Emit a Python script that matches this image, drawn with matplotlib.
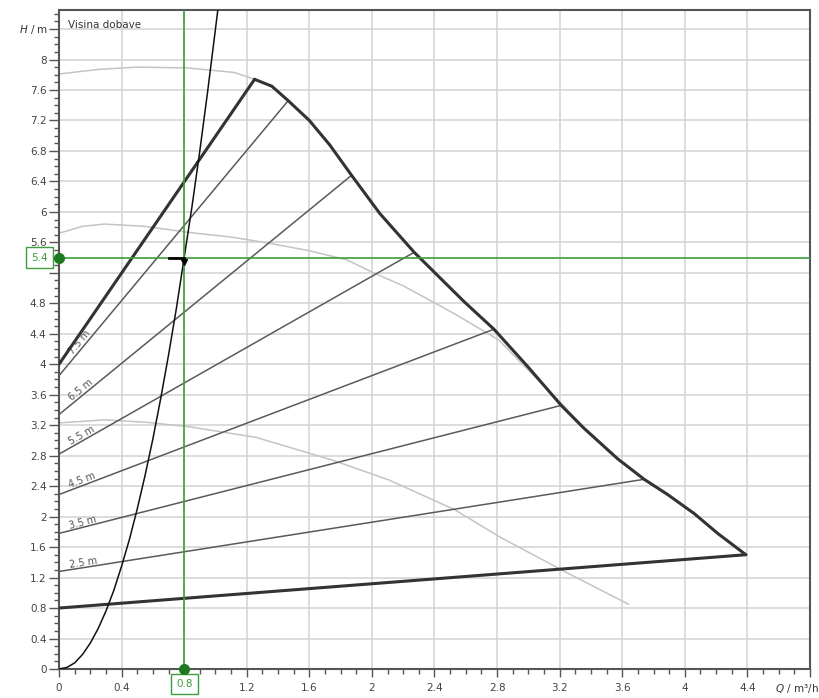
import numpy as np
import matplotlib.pyplot as plt
from matplotlib.ticker import MultipleLocator

# granica radnog podrucja (debela linija)
gran_lijevo_q = [0.0, 1.25]
gran_lijevo_h = [4.0, 7.74]
gran_desno_q = [1.25, 1.36, 1.465, 1.6, 1.73, 1.87, 2.05, 2.27, 2.59, 2.78, 3.0, 3.21,
                3.35, 3.57, 3.74, 3.89, 4.06, 4.21, 4.39]
gran_desno_h = [7.74, 7.65, 7.46, 7.20, 6.88, 6.48, 5.98, 5.47, 4.82, 4.46, 3.96, 3.46,
                3.17, 2.76, 2.49, 2.29, 2.04, 1.78, 1.50]
gran_dolje_q = [4.39, 0.0]
gran_dolje_h = [1.50, 0.8]

# linije proporcionalnog tlaka
prop_oznake = ["7.5 m", "6.5 m", "5.5 m", "4.5 m", "3.5 m", "2.5 m"]
prop_h0 = [3.85, 3.34, 2.82, 2.29, 1.78, 1.28]
prop_q1 = [1.465, 1.87, 2.27, 2.78, 3.21, 3.74]
prop_h1 = [7.46, 6.48, 5.47, 4.46, 3.46, 2.49]

# sive krivulje pumpe
siva1_q = [0.0, 0.25, 0.5, 0.82, 1.12, 1.25]
siva1_h = [7.81, 7.87, 7.90, 7.89, 7.83, 7.74]
siva2_q = [0.0, 0.15, 0.29, 0.55, 0.83, 1.1, 1.34, 1.6, 1.84, 2.01, 2.2, 2.37, 2.53,
           2.67, 2.81, 3.02, 3.21, 3.35, 3.55, 3.74]
siva2_h = [5.72, 5.81, 5.84, 5.81, 5.73, 5.67, 5.59, 5.49, 5.37, 5.20, 5.03, 4.84, 4.66,
           4.49, 4.32, 3.88, 3.49, 3.18, 2.80, 2.48]
siva3_q = [0.0, 0.29, 0.55, 0.83, 1.26, 1.75, 2.11, 2.53, 2.82, 3.25, 3.64]
siva3_h = [3.23, 3.27, 3.24, 3.18, 3.04, 2.74, 2.48, 2.09, 1.73, 1.26, 0.85]

# karakteristika sustava
sustav_q = [0.0, 0.05, 0.1, 0.15, 0.2, 0.25, 0.3, 0.35, 0.4, 0.45, 0.5, 0.55, 0.6, 0.65,
            0.7, 0.75, 0.8, 0.85, 0.9, 0.95, 1.0, 1.03]
sustav_h = [0.0, 0.02, 0.08, 0.19, 0.34, 0.53, 0.76, 1.03, 1.35, 1.70, 2.10, 2.54, 3.02,
            3.55, 4.12, 4.73, 5.40, 6.07, 6.80, 7.58, 8.40, 8.90]

# radna tocka
rad_q = 0.8
rad_h = 5.4

x_ticks = [0, 0.4, 0.8, 1.2, 1.6, 2, 2.4, 2.8, 3.2, 3.6, 4, 4.4, 4.8]
x_labels = ["0", "0.4", "", "1.2", "1.6", "2", "2.4", "2.8", "3.2", "3.6", "4", "4.4", ""]
y_ticks = [0, 0.4, 0.8, 1.2, 1.6, 2, 2.4, 2.8, 3.2, 3.6, 4, 4.4, 4.8, 5.2, 5.6, 6, 6.4,
           6.8, 7.2, 7.6, 8, 8.4]
y_labels = ["0", "0.4", "0.8", "1.2", "1.6", "2", "2.4", "2.8", "3.2", "3.6", "4", "4.4",
            "4.8", "", "5.6", "6", "6.4", "6.8", "7.2", "7.6", "8", ""]

zelena = '#3c9e3c'
tekst = '#444444'

fig = plt.figure(figsize=(8.19, 6.98), dpi=100)
ax = fig.add_axes([59/819, 1-669/698, 751/819, 659/698])
ax.set_xlim(0, 4.8)
ax.set_ylim(0, 8.65)

ax.set_xticks(x_ticks)
ax.set_xticklabels(x_labels)
ax.set_yticks(y_ticks)
ax.set_yticklabels(y_labels)
ax.xaxis.set_minor_locator(MultipleLocator(0.1))
ax.yaxis.set_minor_locator(MultipleLocator(0.1))
ax.tick_params(which='major', direction='out', length=7, width=1, color='#555555',
               labelsize=7.5, labelcolor=tekst, pad=2)
ax.tick_params(which='minor', direction='out', length=3.5, width=1, color='#555555')
ax.tick_params(axis='x', which='major', length=6, pad=4)
ax.grid(which='major', color='#d2d2d2', lw=1.1)
ax.set_axisbelow(True)
for s in ax.spines.values():
    s.set_color('#555555')
    s.set_linewidth(1.5)

# sive krivulje
for q, h in [(siva1_q, siva1_h), (siva2_q, siva2_h), (siva3_q, siva3_h)]:
    ax.plot(q, h, color='#c4c4c4', lw=1.1, zorder=2, solid_joinstyle='round')

# linije proporcionalnog tlaka s oznakama
for i in range(len(prop_oznake)):
    ax.plot([0, prop_q1[i]], [prop_h0[i], prop_h1[i]], color='#5a5a5a', lw=1.1, zorder=3)
    kut = np.degrees(np.arctan2(prop_h1[i]-prop_h0[i], prop_q1[i]))
    xt = 0.16
    yt = prop_h0[i] + xt*(prop_h1[i]-prop_h0[i])/prop_q1[i]
    ax.text(xt, yt, prop_oznake[i], rotation=kut, transform_rotates_text=True,
            rotation_mode='anchor', ha='center', va='bottom', fontsize=7,
            color='#555555', zorder=4)

# debela granica
for q, h in [(gran_lijevo_q, gran_lijevo_h), (gran_desno_q, gran_desno_h),
             (gran_dolje_q, gran_dolje_h)]:
    ax.plot(q, h, color='#333333', lw=2.2, zorder=5, solid_joinstyle='round',
            solid_capstyle='round')

# sustav
ax.plot(sustav_q, sustav_h, color='#111111', lw=1.1, zorder=6)

# radna tocka - zelene linije
ax.axvline(rad_q, color=zelena, lw=1.2, zorder=7)
ax.axhline(rad_h, color=zelena, lw=1.2, zorder=7)
ax.plot([rad_q-0.1, rad_q], [rad_h, rad_h], color='black', lw=2, zorder=8)
ax.plot(rad_q, rad_h-0.06, marker='v', color='black', ms=5, zorder=8)
ax.plot([0], [rad_h], 'o', color='#1f7a1f', ms=7, clip_on=False, zorder=9)
ax.plot([rad_q], [0], 'o', color='#1f7a1f', ms=7, clip_on=False, zorder=9)

ax.annotate("5.4", xy=(0, rad_h), xycoords=('axes fraction', 'data'),
            xytext=(-14, 0), textcoords='offset points', ha='center', va='center',
            fontsize=7.5, color=zelena, annotation_clip=False,
            bbox=dict(boxstyle='square,pad=0.5', fc='white', ec=zelena, lw=1))
ax.annotate("0.8", xy=(rad_q, 0), xycoords=('data', 'axes fraction'),
            xytext=(0, -11), textcoords='offset points', ha='center', va='center',
            fontsize=7.5, color=zelena, annotation_clip=False,
            bbox=dict(boxstyle='square,pad=0.5', fc='white', ec=zelena, lw=1))

# oznake osi
ax.annotate("$H$ / m", xy=(0, 8.4), xycoords=('axes fraction', 'data'),
            xytext=(-8, 0), textcoords='offset points', ha='right', va='center',
            fontsize=7.5, color='#333333', annotation_clip=False)
ax.annotate("$Q$ / m³/h", xy=(1, 0), xycoords='axes fraction',
            xytext=(6, -14), textcoords='offset points', ha='right', va='center',
            fontsize=7.5, color='#333333', annotation_clip=False)
ax.text(0.012, 0.985, "Visina dobave", transform=ax.transAxes, ha='left', va='top',
        fontsize=7.5, color='#333333')

plt.savefig("out.png", dpi=100)
